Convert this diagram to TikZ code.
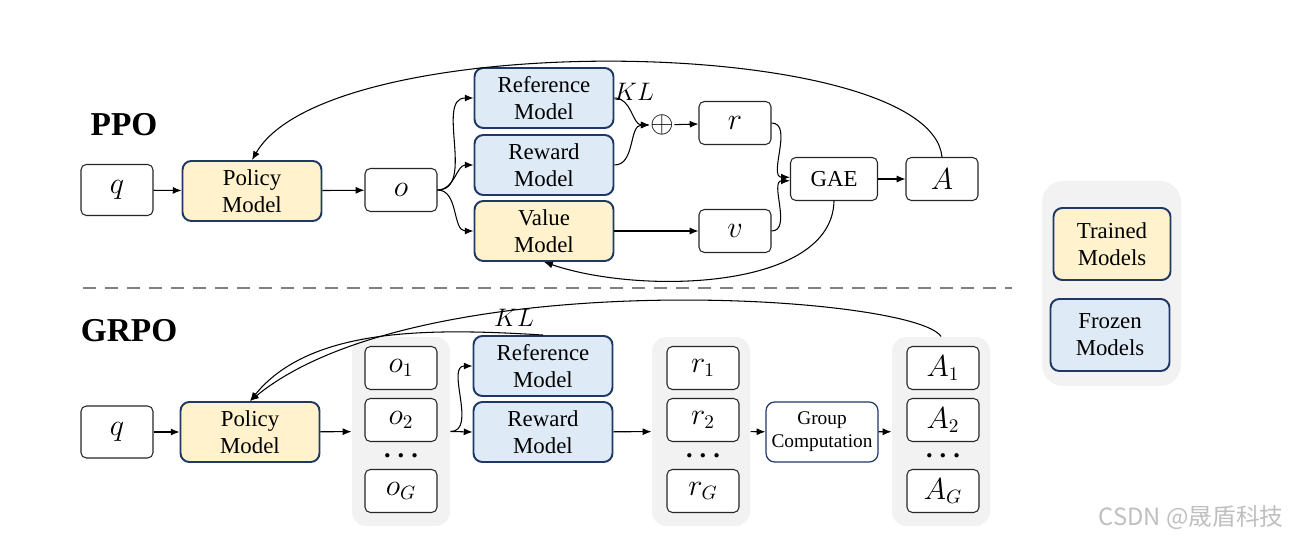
\documentclass[tikz,border=0pt]{standalone}
\usepackage{fontspec}
\setmainfont{Liberation Serif}
\newfontfamily\cjkfont{Noto Sans CJK SC}
\usepackage{pgf,tikz}
\usetikzlibrary{arrows, arrows.meta, shapes}
\usetikzlibrary{positioning,calc}

\definecolor{trainfill}{HTML}{FFF2CC}
\definecolor{frozenfill}{HTML}{DEEBF7}
\definecolor{navy}{HTML}{1F3864}
\definecolor{grpfill}{HTML}{F2F2F2}
\definecolor{dashgray}{HTML}{808080}

\tikzset{
  tok/.style={shape=rectangle, rounded corners=3pt, draw=black!85, fill=white, line width=0.6pt,
    minimum width=1.44cm, minimum height=0.86cm, inner sep=1pt, font=\fontsize{16}{18}\selectfont},
  model/.style={shape=rectangle, rounded corners=5pt, draw=navy, line width=1.1pt,
    minimum width=2.78cm, minimum height=1.2cm, inner sep=1pt, align=center,
    font=\fontsize{13}{15.5}\selectfont},
  trained/.style={model, fill=trainfill},
  frozen/.style={model, fill=frozenfill},
  grp/.style={shape=rectangle, rounded corners=8pt, fill=grpfill,
    minimum width=1.96cm, minimum height=3.78cm},
  title/.style={font=\fontsize{19}{19}\selectfont\bfseries},
  dots/.style={font=\fontsize{15}{15}\selectfont},
}

\begin{document}
\begin{tikzpicture}[x=0.02cm, y=-0.02cm, line width=0.6pt, >={Latex[length=5pt,width=4pt]}]
    \useasboundingbox (0,0) rectangle (1294,540);
    % PPO
    \node[title] (ppo) at (124,125) {PPO};
    \node[tok, minimum height=1.02cm] (q) at (117,190) {$q$};
    \node[trained] (pm) at (252,191) {Policy\\Model};
    \node[tok] (o) at (401,190) {$o$};
    \node[frozen] (ref) at (544,98) {Reference\\Model};
    \node[frozen] (rew) at (544,165) {Reward\\Model};
    \node[trained] (val) at (544,231) {Value\\Model};
    \node[inner sep=0pt, font=\fontsize{18}{18}\selectfont] (sum) at (662,125) {$\oplus$};
    \node[font=\fontsize{15}{15}\selectfont] (kl) at (634,92) {$KL$};
    \node[tok] (r) at (735,123) {$r$};
    \node[tok] (v) at (735,231) {$v$};
    \node[tok, minimum width=1.74cm, font=\fontsize{13}{15}\selectfont] (gae) at (834,179) {GAE};
    \node[tok] (A) at (942,179) {$A$};
    \path [->](q) edge node {} (pm);
    \path [->](pm) edge node {} (o);
    \path [->](o.east) edge[out=0,in=180] node {} (ref.west);
    \path [->](o.east) edge[out=0,in=180] node {} (rew.west);
    \path [->](o.east) edge[out=0,in=180] node {} (val.west);
    \path [->](ref.east) edge[out=0,in=180] node {} (sum.west);
    \path [->](rew.east) edge[out=0,in=180] node {} (sum.west);
    \path [->](sum) edge node {} (r);
    \path [->](val) edge node {} (v);
    \path [->](r.east) edge[out=0,in=180] node {} ([yshift=1pt]gae.west);
    \path [->](v.east) edge[out=0,in=180] node {} ([yshift=-1pt]gae.west);
    \path [->](gae) edge node {} (A);
    \draw [->](A.north) .. controls (930,35) and (330,25) .. (pm.north);
    \draw [->](gae.south) .. controls (832,290) and (640,295) .. (val.south);
    % separator
    \draw [dashgray, line width=1.4pt, dash pattern=on 7.4pt off 5.1pt] (83,288) -- (1012,288);
    % GRPO
    \node[title] (grpo) at (129,331) {GRPO};
    \node[grp] (ogrp) at (401,431.5) {};
    \node[grp] (rgrp) at (701,431.5) {};
    \node[grp] (agrp) at (941,431.5) {};
    \node[tok, minimum height=1.04cm] (q2) at (117,432) {$q$};
    \node[trained] (pm2) at (250,432) {Policy\\Model};
    \node[tok] (o1) at (401,368) {$o_1$};
    \node[tok] (o2) at (401,420) {$o_2$};
    \node[dots] (od) at (401,456) {\textbf{.\hspace{4pt}.\hspace{4pt}.}};
    \node[tok] (oG) at (401,491) {$o_G$};
    \node[frozen] (ref2) at (543,366) {Reference\\Model};
    \node[frozen] (rew2) at (543,432) {Reward\\Model};
    \node[font=\fontsize{14}{14}\selectfont] (kl2) at (514,318) {$KL$};
    \node[tok] (r1) at (703,368) {$r_1$};
    \node[tok] (r2) at (703,420) {$r_2$};
    \node[dots] (rd) at (703,456) {\textbf{.\hspace{4pt}.\hspace{4pt}.}};
    \node[tok] (rG) at (703,491) {$r_G$};
    \node[model, fill=white, line width=0.7pt, minimum width=2.24cm,
      font=\fontsize{11}{13}\selectfont] (gc) at (822,432) {Group\\Computation};
    \node[tok] (A1) at (943,368) {$A_1$};
    \node[tok] (A2) at (943,420) {$A_2$};
    \node[dots] (ad) at (943,456) {\textbf{.\hspace{4pt}.\hspace{4pt}.}};
    \node[tok] (AG) at (943,491) {$A_G$};
    \path [->](q2) edge node {} (pm2);
    \path [->](pm2) edge node {} (ogrp);
    \path [->](ogrp.east) edge node {} (rew2.west);
    \path [->](ogrp.east) edge[out=0,in=180] node {} (ref2.west);
    \path [->](rew2) edge node {} (rgrp);
    \path [->](rgrp) edge node {} (gc);
    \path [->](gc) edge node {} (agrp);
    \draw [->](agrp.north) .. controls (915,295) and (420,262) .. (pm2.north);
    \draw [->](ref2.north) .. controls (430,328) and (310,327) .. (pm2.north);
    % legend
    \node[grp, minimum width=2.78cm, minimum height=4.1cm, rounded corners=12pt] (leg) at (1111.5,283.5) {};
    \node[trained, minimum width=2.34cm, minimum height=1.44cm] (tm) at (1112,244) {Trained\\Models};
    \node[frozen, minimum width=2.38cm, minimum height=1.44cm] (fm) at (1110,335) {Frozen\\Models};
    \node[text=black!25, font=\cjkfont\fontsize{13.5}{13.5}\selectfont, anchor=east] (wm) at (1290,518) {CSDN @晟盾科技};
\end{tikzpicture}
\end{document}
